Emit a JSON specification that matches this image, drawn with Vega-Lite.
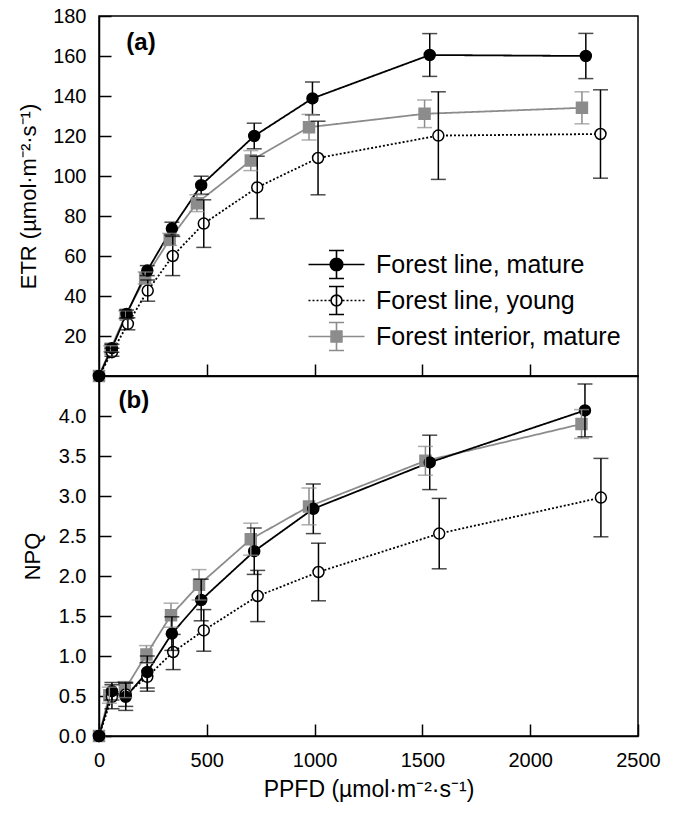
{
  "$schema": "https://vega.github.io/schema/vega-lite/v6.json",
  "padding": {"left": 16, "top": 5, "right": 10, "bottom": 5},
  "bounds": "flush",
  "spacing": 0,
  "config": {
    "font": "Liberation Sans",
    "view": {"stroke": "#000000", "strokeWidth": 1.5},
    "axis": {
      "labelFont": "Liberation Sans", "labelFontSize": 20, "labelColor": "#000000",
      "titleFont": "Liberation Sans", "titleFontSize": 22, "titleFontWeight": "normal", "titleColor": "#000000",
      "tickColor": "#000000", "tickWidth": 1.5, "tickSize": -12, "labelFlush": false,
      "domainColor": "#000000", "domainWidth": 1.5, "grid": false, "labelPadding": 25
    }
  },
  "datasets": {
    "etr": [
      {"series": "Forest interior, mature", "ppfd": 0, "val": 0, "lo": null, "hi": null},
      {"series": "Forest interior, mature", "ppfd": 54, "val": 13.6, "lo": 12.1, "hi": 15.1},
      {"series": "Forest interior, mature", "ppfd": 124, "val": 30.6, "lo": 28.6, "hi": 32.6},
      {"series": "Forest interior, mature", "ppfd": 214, "val": 49, "lo": 46, "hi": 52},
      {"series": "Forest interior, mature", "ppfd": 328, "val": 68.3, "lo": 65.3, "hi": 71.3},
      {"series": "Forest interior, mature", "ppfd": 454, "val": 86.4, "lo": 82.2, "hi": 90.6},
      {"series": "Forest interior, mature", "ppfd": 704, "val": 107.7, "lo": 102.7, "hi": 112.7},
      {"series": "Forest interior, mature", "ppfd": 974, "val": 124.4, "lo": 118, "hi": 130.8},
      {"series": "Forest interior, mature", "ppfd": 1510, "val": 131.1, "lo": 124.2, "hi": 138},
      {"series": "Forest interior, mature", "ppfd": 2240, "val": 134.1, "lo": 126.1, "hi": 142.1},
      {"series": "Forest line, young", "ppfd": 0, "val": 0, "lo": null, "hi": null},
      {"series": "Forest line, young", "ppfd": 60, "val": 11.9, "lo": 9.9, "hi": 13.9},
      {"series": "Forest line, young", "ppfd": 134, "val": 26.1, "lo": 23.1, "hi": 29.1},
      {"series": "Forest line, young", "ppfd": 226, "val": 42.7, "lo": 37.4, "hi": 48},
      {"series": "Forest line, young", "ppfd": 342, "val": 60, "lo": 50.2, "hi": 69.8},
      {"series": "Forest line, young", "ppfd": 486, "val": 76.2, "lo": 64.3, "hi": 88.1},
      {"series": "Forest line, young", "ppfd": 734, "val": 94.3, "lo": 78.7, "hi": 109.9},
      {"series": "Forest line, young", "ppfd": 1016, "val": 109, "lo": 90.6, "hi": 127.4},
      {"series": "Forest line, young", "ppfd": 1574, "val": 120.2, "lo": 98.3, "hi": 142.1},
      {"series": "Forest line, young", "ppfd": 2326, "val": 121, "lo": 98.9, "hi": 143.1},
      {"series": "Forest line, mature", "ppfd": 0, "val": 0, "lo": null, "hi": null},
      {"series": "Forest line, mature", "ppfd": 60, "val": 13.9, "lo": 11.9, "hi": 15.9},
      {"series": "Forest line, mature", "ppfd": 128, "val": 31, "lo": 29, "hi": 33},
      {"series": "Forest line, mature", "ppfd": 224, "val": 52.7, "lo": 50.2, "hi": 55.2},
      {"series": "Forest line, mature", "ppfd": 338, "val": 73.7, "lo": 70.5, "hi": 76.9},
      {"series": "Forest line, mature", "ppfd": 474, "val": 95.4, "lo": 90.9, "hi": 99.9},
      {"series": "Forest line, mature", "ppfd": 720, "val": 120, "lo": 113.6, "hi": 126.4},
      {"series": "Forest line, mature", "ppfd": 990, "val": 138.8, "lo": 130.6, "hi": 147},
      {"series": "Forest line, mature", "ppfd": 1534, "val": 160.5, "lo": 149.8, "hi": 171.2},
      {"series": "Forest line, mature", "ppfd": 2258, "val": 160, "lo": 148.7, "hi": 171.3}
    ],
    "npq": [
      {"series": "Forest interior, mature", "ppfd": 0, "val": 0, "lo": null, "hi": null},
      {"series": "Forest interior, mature", "ppfd": 48, "val": 0.51, "lo": 0.41, "hi": 0.61},
      {"series": "Forest interior, mature", "ppfd": 120, "val": 0.58, "lo": 0.48, "hi": 0.68},
      {"series": "Forest interior, mature", "ppfd": 220, "val": 1.02, "lo": 0.91, "hi": 1.13},
      {"series": "Forest interior, mature", "ppfd": 334, "val": 1.51, "lo": 1.36, "hi": 1.66},
      {"series": "Forest interior, mature", "ppfd": 464, "val": 1.89, "lo": 1.7, "hi": 2.08},
      {"series": "Forest interior, mature", "ppfd": 704, "val": 2.46, "lo": 2.26, "hi": 2.66},
      {"series": "Forest interior, mature", "ppfd": 974, "val": 2.87, "lo": 2.64, "hi": 3.1},
      {"series": "Forest interior, mature", "ppfd": 1514, "val": 3.44, "lo": 3.26, "hi": 3.62},
      {"series": "Forest interior, mature", "ppfd": 2238, "val": 3.9, "lo": 3.72, "hi": 4.08},
      {"series": "Forest line, young", "ppfd": 0, "val": 0, "lo": null, "hi": null},
      {"series": "Forest line, young", "ppfd": 60, "val": 0.49, "lo": 0.34, "hi": 0.64},
      {"series": "Forest line, young", "ppfd": 124, "val": 0.52, "lo": 0.37, "hi": 0.67},
      {"series": "Forest line, young", "ppfd": 224, "val": 0.74, "lo": 0.56, "hi": 0.92},
      {"series": "Forest line, young", "ppfd": 344, "val": 1.05, "lo": 0.83, "hi": 1.27},
      {"series": "Forest line, young", "ppfd": 486, "val": 1.32, "lo": 1.06, "hi": 1.58},
      {"series": "Forest line, young", "ppfd": 736, "val": 1.75, "lo": 1.43, "hi": 2.07},
      {"series": "Forest line, young", "ppfd": 1018, "val": 2.05, "lo": 1.69, "hi": 2.41},
      {"series": "Forest line, young", "ppfd": 1578, "val": 2.53, "lo": 2.09, "hi": 2.97},
      {"series": "Forest line, young", "ppfd": 2328, "val": 2.98, "lo": 2.49, "hi": 3.47},
      {"series": "Forest line, mature", "ppfd": 0, "val": 0, "lo": null, "hi": null},
      {"series": "Forest line, mature", "ppfd": 60, "val": 0.56, "lo": 0.45, "hi": 0.67},
      {"series": "Forest line, mature", "ppfd": 124, "val": 0.49, "lo": 0.32, "hi": 0.66},
      {"series": "Forest line, mature", "ppfd": 224, "val": 0.8, "lo": 0.6, "hi": 1.0},
      {"series": "Forest line, mature", "ppfd": 338, "val": 1.28, "lo": 1.07, "hi": 1.49},
      {"series": "Forest line, mature", "ppfd": 474, "val": 1.7, "lo": 1.44, "hi": 1.96},
      {"series": "Forest line, mature", "ppfd": 720, "val": 2.31, "lo": 2.02, "hi": 2.6},
      {"series": "Forest line, mature", "ppfd": 994, "val": 2.84, "lo": 2.53, "hi": 3.15},
      {"series": "Forest line, mature", "ppfd": 1534, "val": 3.42, "lo": 3.08, "hi": 3.76},
      {"series": "Forest line, mature", "ppfd": 2254, "val": 4.07, "lo": 3.74, "hi": 4.4}
    ],
    "labA": [{"lab": "(a)", "px": 195, "py": 166.5}],
    "labB": [{"lab": "(b)", "px": 162, "py": 4.19}]
  },
  "resolve": {"scale": {"color": "independent", "stroke": "independent", "fill": "independent", "shape": "independent", "strokeDash": "independent"}},
  "vconcat": [
    {
      "width": 539, "height": 360,
      "data": {"name": "etr"},
      "resolve": {"scale": {"shape": "independent", "fill": "independent", "stroke": "independent"}},
      "layer": [
        {
          "mark": {"type": "line", "strokeWidth": 1.8},
          "encoding": {
            "x": {"field": "ppfd", "type": "quantitative", "scale": {"domain": [0, 2500], "nice": false}, "axis": {"values": [500, 1000, 1500, 2000], "labels": false, "title": null}},
            "y": {"field": "val", "type": "quantitative", "scale": {"domain": [0, 180], "nice": false}, "axis": {"values": [20, 40, 60, 80, 100, 120, 140, 160, 180], "title": "ETR (µmol·m⁻²·s⁻¹)", "titlePadding": 12}},
            "color": {"field": "series", "type": "nominal", "scale": {"domain": ["Forest line, mature", "Forest line, young", "Forest interior, mature"], "range": ["#000000", "#000000", "#8c8c8c"]}, "legend": null},
            "strokeDash": {"field": "series", "type": "nominal", "scale": {"domain": ["Forest line, mature", "Forest line, young", "Forest interior, mature"], "range": [[1, 0], [2, 2], [1, 0]]}, "legend": null},
            "order": {"field": "ppfd", "type": "quantitative"}
          }
        },
        {
          "mark": {"type": "point", "filled": false, "strokeWidth": 1.5, "size": 120, "opacity": 1},
          "encoding": {
            "x": {"field": "ppfd", "type": "quantitative"},
            "y": {"field": "val", "type": "quantitative"},
            "shape": {"field": "series", "type": "nominal", "scale": {"domain": ["Forest line, mature", "Forest line, young", "Forest interior, mature"], "range": ["circle", "circle", "square"]}, "legend": null},
            "fill": {"field": "series", "type": "nominal", "scale": {"domain": ["Forest line, mature", "Forest line, young", "Forest interior, mature"], "range": ["#000000", "#ffffff", "#8c8c8c"]}, "legend": null},
            "stroke": {"field": "series", "type": "nominal", "scale": {"domain": ["Forest line, mature", "Forest line, young", "Forest interior, mature"], "range": ["#000000", "#000000", "#8c8c8c"]}, "legend": null}
          }
        },
        {
          "mark": {"type": "rule", "strokeWidth": 1.5},
          "encoding": {
            "x": {"field": "ppfd", "type": "quantitative"},
            "y": {"field": "lo", "type": "quantitative"},
            "y2": {"field": "hi"},
            "color": {"field": "series", "type": "nominal", "legend": null}
          }
        },
        {
          "mark": {"type": "tick", "orient": "horizontal", "size": 15, "thickness": 1.5},
          "encoding": {
            "x": {"field": "ppfd", "type": "quantitative"},
            "y": {"field": "lo", "type": "quantitative"},
            "color": {"field": "series", "type": "nominal", "legend": null}
          }
        },
        {
          "mark": {"type": "tick", "orient": "horizontal", "size": 15, "thickness": 1.5},
          "encoding": {
            "x": {"field": "ppfd", "type": "quantitative"},
            "y": {"field": "hi", "type": "quantitative"},
            "color": {"field": "series", "type": "nominal", "legend": null}
          }
        },
        {
          "transform": [{"filter": "false"}],
          "mark": {"type": "point", "filled": false, "strokeWidth": 1.6, "opacity": 1},
          "encoding": {
            "shape": {"field": "series", "type": "nominal",
              "scale": {"domain": ["Forest line, mature", "Forest line, young", "Forest interior, mature"],
                "range": [
                  "M-1.6,0L1.6,0M0,-0.8L0,0.8M-0.43,-0.8L0.43,-0.8M-0.43,0.8L0.43,0.8M0.36,0A0.36,0.36,0,1,1,-0.36,0A0.36,0.36,0,1,1,0.36,0Z",
                  "M-1.6,0L-1.49,0M-1.37,0L-1.26,0M-1.14,0L-1.03,0M-0.91,0L-0.8,0M-0.69,0L-0.57,0M-0.46,0L-0.34,0M0.34,0L0.46,0M0.57,0L0.69,0M0.8,0L0.91,0M1.03,0L1.14,0M1.26,0L1.37,0M1.49,0L1.6,0M0,-0.8L0,0.8M-0.43,-0.8L0.43,-0.8M-0.43,0.8L0.43,0.8M0.31,0A0.31,0.31,0,1,1,-0.31,0A0.31,0.31,0,1,1,0.31,0Z",
                  "M-1.6,0L1.6,0M0,-0.8L0,0.8M-0.43,-0.8L0.43,-0.8M-0.43,0.8L0.43,0.8M-0.31,-0.31L0.31,-0.31L0.31,0.31L-0.31,0.31Z"
                ]},
              "legend": {
                "title": null, "orient": "none", "legendX": 219, "legendY": 230, "padding": 0,
                "symbolSize": 1225, "symbolStrokeWidth": 1.6, "symbolOpacity": 1, "rowPadding": -2,
                "labelFont": "Liberation Sans", "labelFontSize": 25, "labelColor": "#000000", "labelOffset": 21, "labelLimit": 400
              }
            },
            "fill": {"field": "series", "type": "nominal", "scale": {"domain": ["Forest line, mature", "Forest line, young", "Forest interior, mature"], "range": ["#000000", "#ffffff", "#8c8c8c"]},
              "legend": {"title": null, "orient": "none", "legendX": 219, "legendY": 230}},
            "stroke": {"field": "series", "type": "nominal", "scale": {"domain": ["Forest line, mature", "Forest line, young", "Forest interior, mature"], "range": ["#000000", "#000000", "#8c8c8c"]},
              "legend": {"title": null, "orient": "none", "legendX": 219, "legendY": 230}}
          }
        },
        {
          "data": {"name": "labA"},
          "mark": {"type": "text", "fontSize": 24, "fontWeight": "bold", "font": "Liberation Sans", "color": "#000000", "align": "center", "baseline": "middle"},
          "encoding": {
            "x": {"field": "px", "type": "quantitative"},
            "y": {"field": "py", "type": "quantitative"},
            "text": {"field": "lab"}
          }
        }
      ]
    },
    {
      "width": 539, "height": 360,
      "data": {"name": "npq"},
      "layer": [
        {
          "mark": {"type": "line", "strokeWidth": 1.8},
          "encoding": {
            "x": {"field": "ppfd", "type": "quantitative", "scale": {"domain": [0, 2500], "nice": false}, "axis": {"values": [0, 500, 1000, 1500, 2000, 2500], "format": "d", "title": "PPFD (µmol·m⁻²·s⁻¹)", "titleFontSize": 23, "titlePadding": 8, "labelPadding": 26}},
            "y": {"field": "val", "type": "quantitative", "scale": {"domain": [0, 4.5], "nice": false}, "axis": {"values": [0, 0.5, 1, 1.5, 2, 2.5, 3, 3.5, 4], "format": ".1f", "title": "NPQ", "titlePadding": 14}},
            "color": {"field": "series", "type": "nominal", "scale": {"domain": ["Forest line, mature", "Forest line, young", "Forest interior, mature"], "range": ["#000000", "#000000", "#8c8c8c"]}, "legend": null},
            "strokeDash": {"field": "series", "type": "nominal", "scale": {"domain": ["Forest line, mature", "Forest line, young", "Forest interior, mature"], "range": [[1, 0], [2, 2], [1, 0]]}, "legend": null},
            "order": {"field": "ppfd", "type": "quantitative"}
          }
        },
        {
          "mark": {"type": "point", "filled": false, "strokeWidth": 1.5, "size": 120, "opacity": 1},
          "encoding": {
            "x": {"field": "ppfd", "type": "quantitative"},
            "y": {"field": "val", "type": "quantitative"},
            "shape": {"field": "series", "type": "nominal", "scale": {"domain": ["Forest line, mature", "Forest line, young", "Forest interior, mature"], "range": ["circle", "circle", "square"]}, "legend": null},
            "fill": {"field": "series", "type": "nominal", "scale": {"domain": ["Forest line, mature", "Forest line, young", "Forest interior, mature"], "range": ["#000000", "#ffffff", "#8c8c8c"]}, "legend": null},
            "stroke": {"field": "series", "type": "nominal", "scale": {"domain": ["Forest line, mature", "Forest line, young", "Forest interior, mature"], "range": ["#000000", "#000000", "#8c8c8c"]}, "legend": null}
          }
        },
        {
          "mark": {"type": "rule", "strokeWidth": 1.5},
          "encoding": {
            "x": {"field": "ppfd", "type": "quantitative"},
            "y": {"field": "lo", "type": "quantitative"},
            "y2": {"field": "hi"},
            "color": {"field": "series", "type": "nominal", "legend": null}
          }
        },
        {
          "mark": {"type": "tick", "orient": "horizontal", "size": 15, "thickness": 1.5},
          "encoding": {
            "x": {"field": "ppfd", "type": "quantitative"},
            "y": {"field": "lo", "type": "quantitative"},
            "color": {"field": "series", "type": "nominal", "legend": null}
          }
        },
        {
          "mark": {"type": "tick", "orient": "horizontal", "size": 15, "thickness": 1.5},
          "encoding": {
            "x": {"field": "ppfd", "type": "quantitative"},
            "y": {"field": "hi", "type": "quantitative"},
            "color": {"field": "series", "type": "nominal", "legend": null}
          }
        },
        {
          "data": {"name": "labB"},
          "mark": {"type": "text", "fontSize": 24, "fontWeight": "bold", "font": "Liberation Sans", "color": "#000000", "align": "center", "baseline": "middle"},
          "encoding": {
            "x": {"field": "px", "type": "quantitative"},
            "y": {"field": "py", "type": "quantitative"},
            "text": {"field": "lab"}
          }
        }
      ]
    }
  ]
}
